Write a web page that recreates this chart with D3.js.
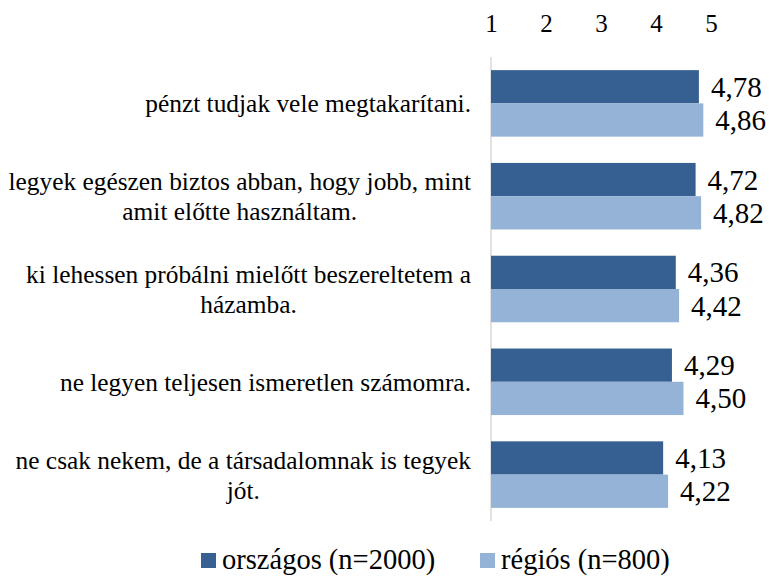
<!DOCTYPE html>
<html><head><meta charset="utf-8">
<script src="https://cdn.jsdelivr.net/npm/d3@7"></script>
<style>body{margin:0;background:#fff}</style>
</head><body>
<svg id="c" width="769" height="576" font-family="Liberation Serif"></svg>
<script>
const categories = [
  ["pénzt tudjak vele megtakarítani."],
  ["legyek egészen biztos abban, hogy jobb, mint", "amit előtte használtam."],
  ["ki lehessen próbálni mielőtt beszereltetem a", "házamba."],
  ["ne legyen teljesen ismeretlen számomra."],
  ["ne csak nekem, de a társadalomnak is tegyek", "jót."]
];
const seriesNames = ["országos (n=2000)", "régiós (n=800)"];
const orszagos = [4.78, 4.72, 4.36, 4.29, 4.13];
const regios = [4.86, 4.82, 4.42, 4.50, 4.22];
const tickValues = [1, 2, 3, 4, 5];
const colors = ["#376092", "#95B3D7"];

const FF = "Liberation Serif";
const svg = d3.select("#c");
const x = d3.scaleLinear().domain([1, 5]).range([491, 711]);
const y = d3.scaleBand().domain(d3.range(categories.length)).range([57, 521]).paddingInner(0.283).paddingOuter(0.1415);
const y2 = d3.scaleBand().domain([0, 1]).range([0, y.bandwidth()]);
const series = [orszagos, regios];

// axis line
svg.append("line").attr("x1", x(1)).attr("x2", x(1)).attr("y1", 57).attr("y2", 521)
  .attr("stroke", "#d9d9d9").attr("stroke-width", 1.5);

// top tick labels
const ax = d3.axisTop(x).tickValues(tickValues).tickSize(0).tickFormat(d3.format("d"));
const gAx = svg.append("g").attr("transform", "translate(0,35)").call(ax);
gAx.attr("font-family", FF).attr("font-size", 25);
gAx.select(".domain").remove();
gAx.selectAll("text").style("font-family", FF).attr("font-size", 25).attr("fill", "#000").attr("dy", 0);

const fmt = v => v.toFixed(2).replace(".", ",");

series.forEach((vals, s) => {
  const g = svg.append("g");
  g.selectAll("rect").data(vals).join("rect")
    .attr("x", x(1))
    .attr("y", (d, i) => y(i) + y2(s))
    .attr("width", d => x(d) - x(1))
    .attr("height", y2.bandwidth())
    .attr("fill", colors[s]);
  g.selectAll("text").data(vals).join("text")
    .attr("x", d => x(d) + 12)
    .attr("y", (d, i) => y(i) + y2(s) + y2.bandwidth() / 2 + 10)
    .style("font-family", FF).attr("font-size", 29).attr("fill", "#000")
    .text(fmt);
});

// category labels
const labelRight = 471;
const lh = 30;
categories.forEach((lines, i) => {
  const cy = y(i) + y.bandwidth() / 2;
  const t = svg.append("text").style("font-family", FF).attr("font-size", 25.4).attr("fill", "#000")
    .attr("text-anchor", "middle");
  const tspans = lines.map((ln, k) => t.append("tspan").text(ln)
    .attr("y", cy + (k - (lines.length - 1) / 2) * lh + 9));
  const maxW = d3.max(tspans, ts => ts.node().getComputedTextLength());
  tspans.forEach(ts => ts.attr("x", labelRight - maxW / 2));
});

// legend
const leg = svg.append("g");
const legX = [201, 480];
seriesNames.forEach((n, s) => {
  leg.append("rect").attr("x", legX[s]).attr("y", 553).attr("width", 15).attr("height", 15).attr("fill", colors[s]);
  leg.append("text").attr("x", legX[s] + 21).attr("y", 568.5).style("font-family", FF).attr("font-size", 28.5)
    .attr("fill", "#000").text(n);
});
</script>
</body></html>
